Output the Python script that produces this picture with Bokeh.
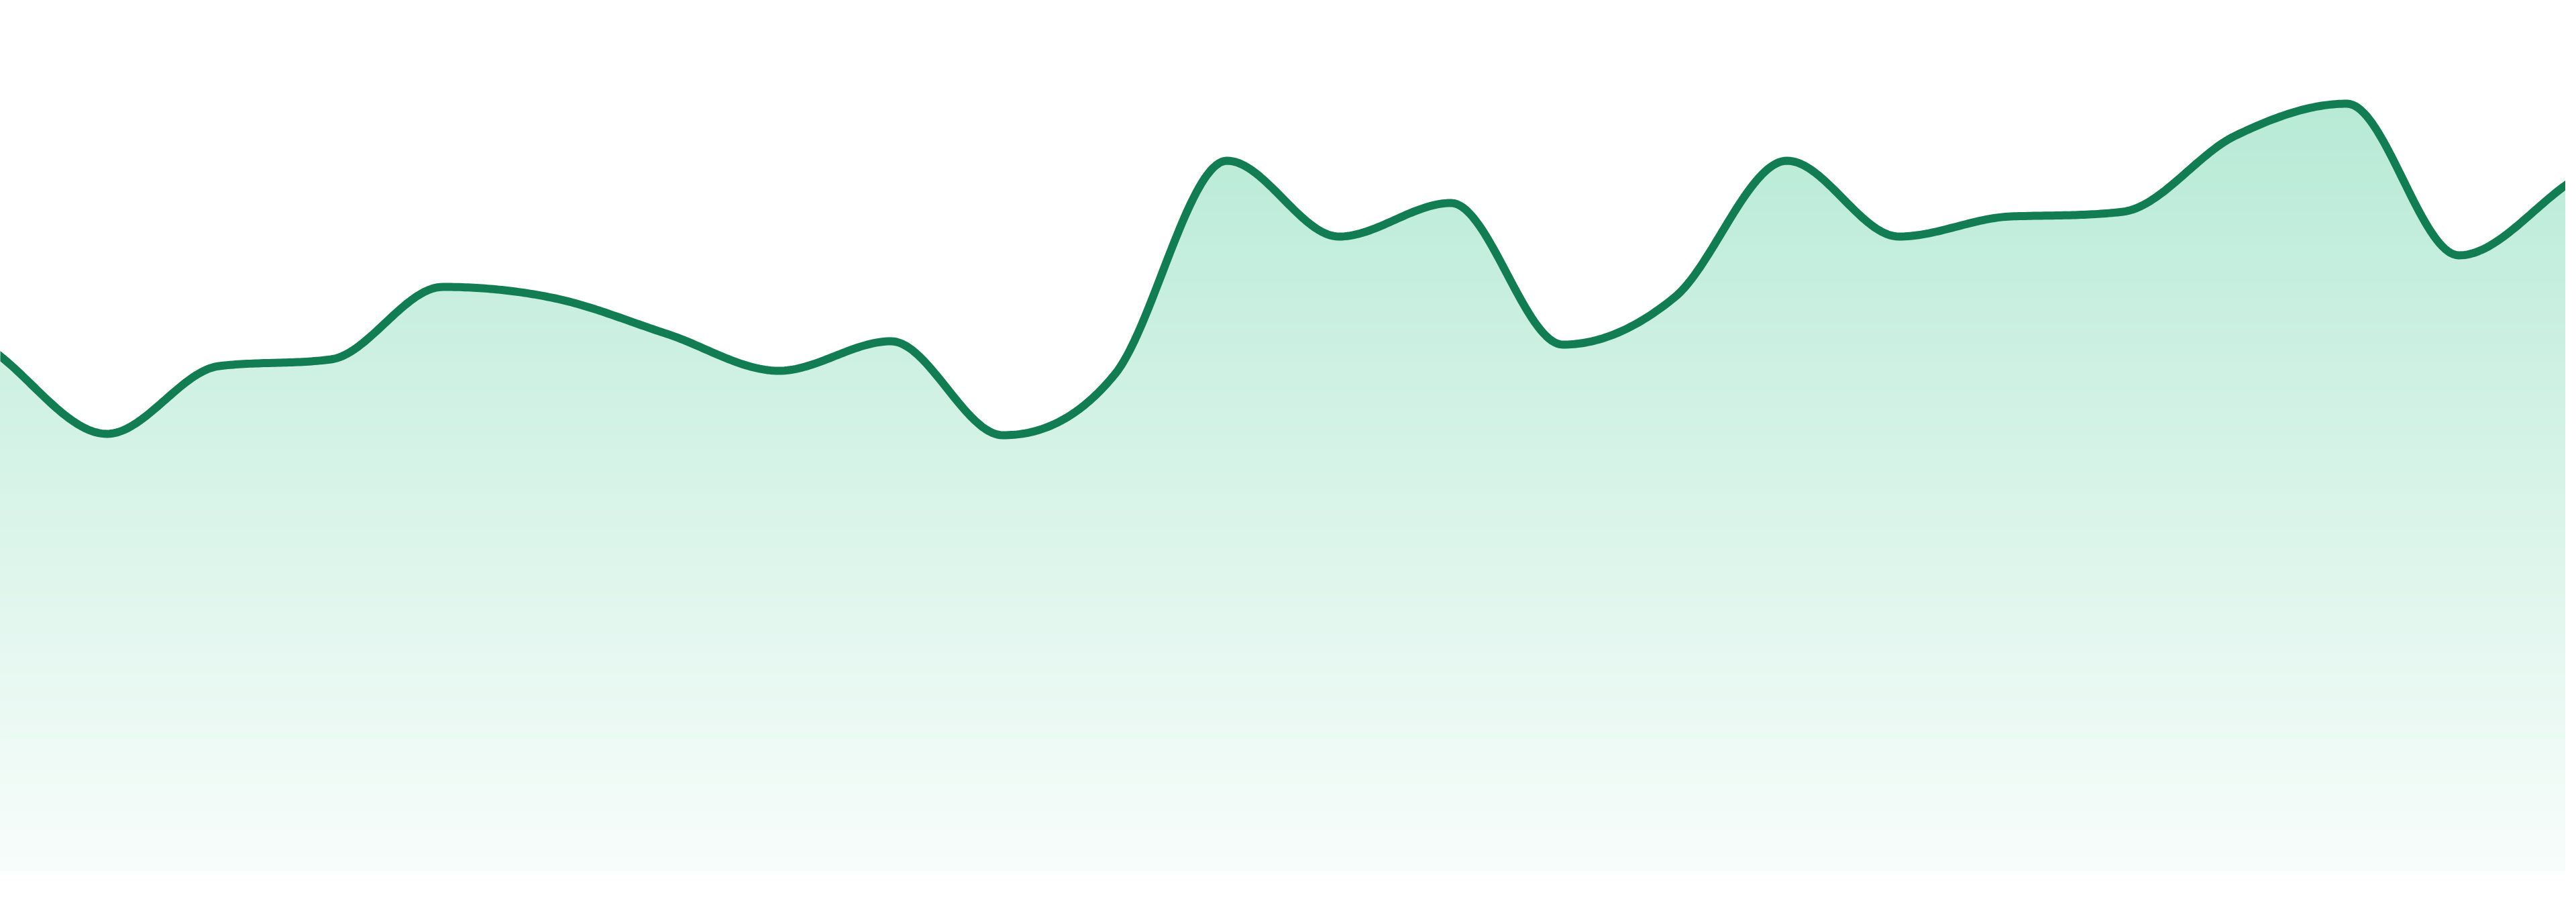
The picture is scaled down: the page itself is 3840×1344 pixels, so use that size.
from bokeh.plotting import figure
from bokeh.models import Range1d
from bokeh.embed import file_html
from bokeh.resources import INLINE
import numpy as np

# one value per hour
hours = list(range(24))
values = [77.3, 65.1, 75.2, 76.2, 87.0, 85.3, 80.0, 74.5, 78.9, 64.9, 74.0, 105.8,
          94.5, 99.5, 78.4, 85.5, 105.8, 94.5, 97.5, 98.2, 109.5, 114.3, 91.7, 102.7]

line_color = "#127c52"
fill_rgb = (16, 185, 118)


def monotone_curve(xs, ys, steps=40):
    # Fritsch-Carlson monotone cubic (as in Chart.js), sampled for drawing
    xs = np.asarray(xs, float)
    ys = np.asarray(ys, float)
    n = len(xs)
    h = np.diff(xs)
    d = np.diff(ys) / h
    m = np.zeros(n)
    m[0] = d[0]
    m[-1] = d[-1]
    for i in range(1, n - 1):
        if np.sign(d[i - 1]) != np.sign(d[i]):
            m[i] = 0
        else:
            m[i] = (d[i - 1] + d[i]) / 2
    for i in range(n - 1):
        if abs(d[i]) < 1e-9:
            m[i] = m[i + 1] = 0
            continue
        a = m[i] / d[i]
        b = m[i + 1] / d[i]
        sq = a * a + b * b
        if sq <= 9:
            continue
        tau = 3 / np.sqrt(sq)
        m[i] = a * tau * d[i]
        m[i + 1] = b * tau * d[i]
    out_x, out_y = [], []
    u = np.linspace(0, 1, steps, endpoint=False)
    for i in range(n - 1):
        dx = h[i] / 3
        px = [xs[i], xs[i] + dx, xs[i + 1] - dx, xs[i + 1]]
        py = [ys[i], ys[i] + dx * m[i], ys[i + 1] - dx * m[i + 1], ys[i + 1]]
        bern = [(1 - u) ** 3, 3 * u * (1 - u) ** 2, 3 * u ** 2 * (1 - u), u ** 3]
        out_x.extend(sum(bk * pk for bk, pk in zip(bern, px)))
        out_y.extend(sum(bk * pk for bk, pk in zip(bern, py)))
    out_x.append(xs[-1])
    out_y.append(ys[-1])
    return np.array(out_x), np.array(out_y)


cx, cy = monotone_curve(hours, values)

p = figure(width=3824, height=1328, output_backend="svg", toolbar_location=None,
           x_range=Range1d(0.048, 22.952), y_range=Range1d(-3.1, 129.7),
           x_axis_location=None, y_axis_location=None, min_border=0)
p.grid.visible = False
p.outline_line_color = None
p.background_fill_color = "white"

# vertical gradient: stacked bands, darkest (full area) first
top = 118.0
n_bands = 120
edges = np.linspace(0, top, n_bands + 1)
for k in range(n_bands, 0, -1):
    mid = (edges[k - 1] + edges[k]) / 2
    a = 0.03 + 0.26 * mid / 110.5
    r, g, b = (int(round(255 - a * (255 - c))) for c in fill_rgb)
    p.varea(x=cx, y1=0, y2=np.minimum(cy, edges[k]), fill_color=f"#{r:02x}{g:02x}{b:02x}",
            fill_alpha=1.0)

p.line(cx, cy, line_color=line_color, line_width=12, line_join="round", line_cap="round")

open("out.html", "w").write(file_html(p, INLINE))
